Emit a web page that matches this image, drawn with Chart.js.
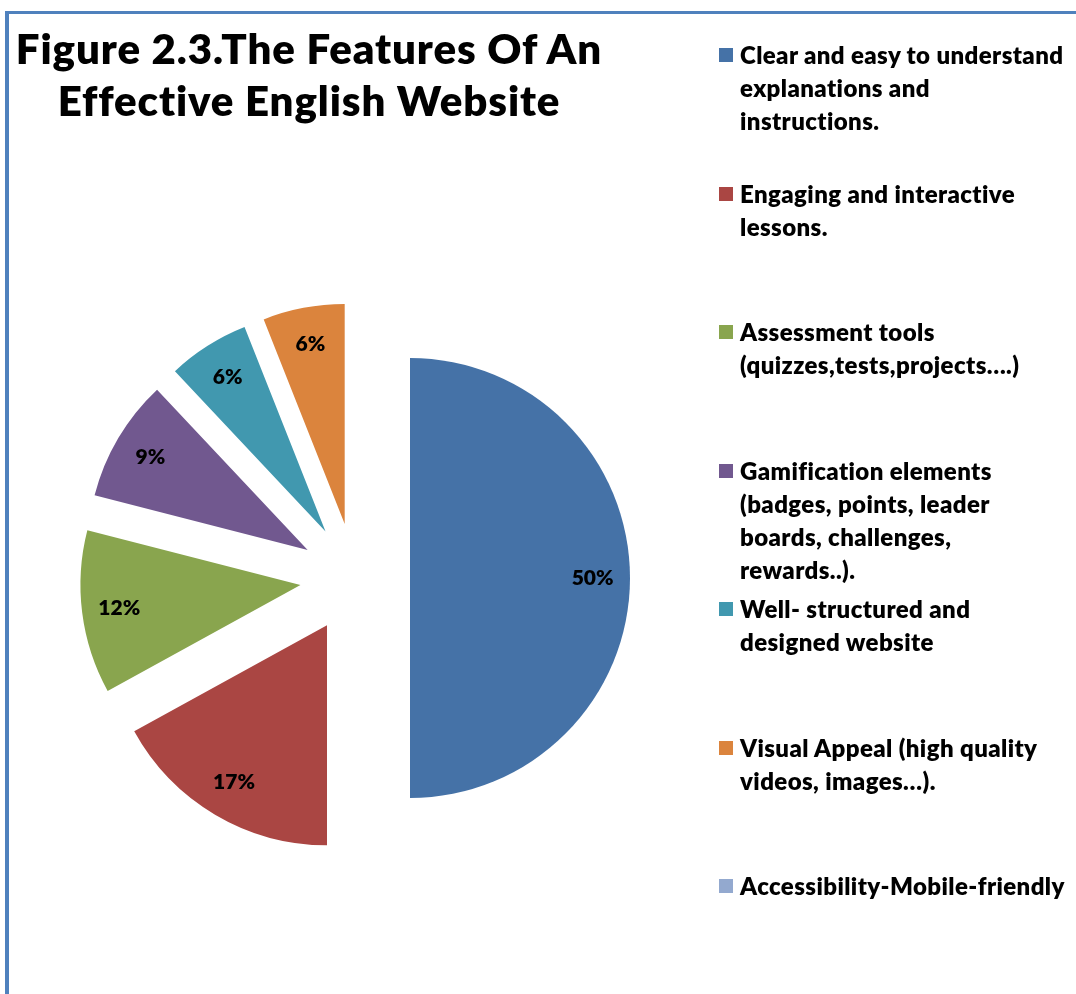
<!DOCTYPE html>
<html>
<head>
<meta charset="utf-8">
<script src="https://cdn.jsdelivr.net/npm/chart.js@4.4.1/dist/chart.umd.min.js"></script>
<style>
  html, body { margin: 0; padding: 0; background: #fff; }
  body { width: 1076px; height: 994px; position: relative; overflow: hidden; font-family: 'Lato', 'Noto Sans', sans-serif; }
  #frame { position: absolute; left: 5px; top: 11px; width: 1200px; height: 1200px;
           border-left: 4px solid #4f81bd; border-top: 3px solid #4f81bd; }
  #chart { position: absolute; left: 0; top: 0; }
  #title { position: absolute; left: 0; top: 22px; width: 618px; text-align: center;
           font-weight: 800; font-size: 42px; line-height: 52px; letter-spacing: 0.9px; color: #000; }
  .item { position: absolute; left: 740px; font-weight: 800; font-size: 24px; line-height: 33px;
          letter-spacing: 0.4px; color: #000; white-space: nowrap; }
  .box { position: absolute; left: -21px; top: 10px; width: 14px; height: 14px; }
</style>
</head>
<body>
<div id="frame"></div>
<canvas id="chart" width="1076" height="994"></canvas>
<div id="title">Figure 2.3.The Features Of An<br>Effective English Website</div>
<div id="legend"></div>
<script>
// data
const categories = [
  ['Clear and easy to understand', 'explanations and', 'instructions.'],
  ['Engaging and interactive', 'lessons.'],
  ['Assessment tools', '(quizzes,tests,projects\u2026.)'],
  ['Gamification elements', '(badges, points, leader', 'boards, challenges,', 'rewards..).'],
  ['Well- structured and', 'designed website'],
  ['Visual Appeal (high quality', 'videos, images\u2026).'],
  ['Accessibility-Mobile-friendly']
];
const percents = [50, 17, 12, 9, 6, 6, 0];
const colors = ['#4572a7', '#aa4643', '#89a54e', '#71588f', '#4198af', '#db843d', '#93a9cf'];

const explode = 55;   // distance each slice is pulled out
const labelPos = 0.83; // label distance as a part of the radius

// pull every slice out along its middle angle
const explodePlugin = {
  id: 'explode',
  afterDatasetUpdate(chart, args) {
    args.meta.data.forEach(arc => {
      const mid = (arc.startAngle + arc.endAngle) / 2;
      arc.x += Math.cos(mid) * explode;
      arc.y += Math.sin(mid) * explode;
    });
  }
};

// percent labels inside the slices
const labelPlugin = {
  id: 'pctLabels',
  afterDatasetsDraw(chart) {
    const ctx = chart.ctx;
    const meta = chart.getDatasetMeta(0);
    ctx.save();
    ctx.font = '800 21px Lato, "Noto Sans", sans-serif';
    ctx.fillStyle = '#000';
    ctx.textAlign = 'center';
    ctx.textBaseline = 'middle';
    meta.data.forEach((arc, i) => {
      if (!percents[i]) return;
      const mid = (arc.startAngle + arc.endAngle) / 2;
      const r = arc.outerRadius * labelPos;
      ctx.fillText(percents[i] + '%', arc.x + Math.cos(mid) * r, arc.y + Math.sin(mid) * r);
    });
    ctx.restore();
  }
};

new Chart(document.getElementById('chart'), {
  type: 'pie',
  data: {
    labels: categories.map(c => c.join(' ')),
    datasets: [{
      data: percents,
      backgroundColor: colors,
      borderWidth: 0,
      radius: 220
    }]
  },
  options: {
    responsive: false,
    animation: false,
    layout: { padding: { left: 0, right: 366, top: 162, bottom: 0 } },
    plugins: {
      legend: { display: false },
      title: { display: false },
      tooltip: { enabled: false }
    }
  },
  plugins: [explodePlugin, labelPlugin]
});

// legend on the right, evenly spaced like the original
const legend = document.getElementById('legend');
categories.forEach((lines, i) => {
  const item = document.createElement('div');
  item.className = 'item';
  item.style.top = (56 + i * 138.5 - 18) + 'px';
  const box = document.createElement('span');
  box.className = 'box';
  box.style.background = colors[i];
  item.appendChild(box);
  item.innerHTML += lines.join('<br>');
  legend.appendChild(item);
});
</script>
</body>
</html>
